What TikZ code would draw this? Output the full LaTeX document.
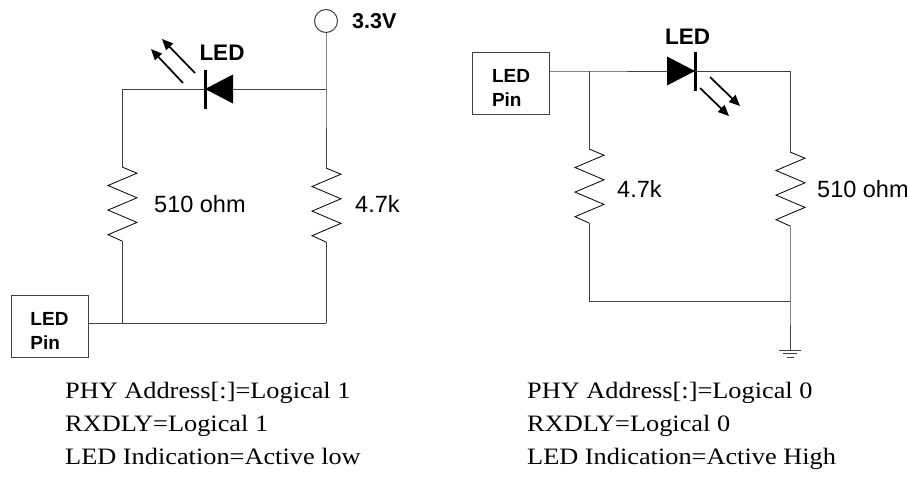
\documentclass[tikz,border=0pt]{standalone}
\usepackage{fontspec}
\setmainfont{Liberation Serif}
\setsansfont{Liberation Sans}
\newfontfamily\notefont[FakeStretch=1.12]{Liberation Serif}
\usetikzlibrary{arrows.meta}

\begin{document}
\begin{tikzpicture}[x=1pt,y=-1pt,
  wire/.style={black!75, line width=1pt},
  emit/.style={line width=1.7pt, -{Triangle[length=11pt,width=9.5pt]}},
  part/.style={font=\sffamily\fontsize{23.5}{28}\selectfont, anchor=west, inner sep=0pt},
  tag/.style={font=\sffamily\bfseries\fontsize{22.5}{26}\selectfont, inner sep=0pt},
  pinbox/.style={draw=black!75, line width=1pt, minimum width=77pt, minimum height=62pt, inner sep=0pt},
  pintext/.style={align=left, inner sep=0pt, yshift=-5pt, font=\sffamily\bfseries\fontsize{19}{24}\selectfont},
  note/.style={font=\notefont\fontsize{23.5}{33}\selectfont, anchor=base west, inner sep=0pt},
  resistor/.pic={
    \coordinate (-top) at (0,0);
    \coordinate (-bot) at (0,74);
    \draw[black, line width=0.8pt] (-top) -- ++(15,6.2) -- ++(-29,12.3) -- ++(29,12.3)
      -- ++(-29,12.3) -- ++(29,12.3) -- ++(-29,12.3) -- (-bot);
  },
  led/.pic={
    \coordinate (-a) at (-28,0);
    \coordinate (-k) at (0,0);
    \fill (-28,-14.5) -- (-28,14.5) -- (0,0) -- cycle;
    \draw[line width=3pt] (0,-19.5) -- (0,19.5);
  }]
\useasboundingbox (0,0) rectangle (908,477);

% active low
\node[draw=black!75, line width=1pt, circle, minimum size=23pt, inner sep=0pt] (vcc) at (326,21) {};
\node[tag, anchor=west, font=\sffamily\bfseries\fontsize{21.5}{25}\selectfont] (vcctag) at (352,21) {3.3V};
\coordinate (ljr) at (326,89);
\coordinate (ljl) at (122,89);
\coordinate (lbl) at (122,323);
\coordinate (lbr) at (326,323);
\pic[rotate=180] (dl) at (205,89) {led};
\pic (r1) at (122,167) {resistor};
\pic (r2) at (326,168) {resistor};
\node[pinbox, label={[pintext]center:{LED\\Pin}}] (pinl) at (49.5,326) {};
\node[tag] (ledl) at (222,53) {LED};
\node[part] (r1val) at (154,204) {510 ohm};
\node[part] (r2val) at (355,204) {4.7k};

\draw[wire] (vcc.south) -- (ljr) -- (r2-top);
\draw[wire] (ljr) -- (dl-a);
\draw[wire] (dl-k) -- (ljl) -- (r1-top);
\draw[wire] (r1-bot) -- (lbl);
\draw[wire] (r2-bot) -- (lbr);
\draw[wire] (pinl.east |- lbl) -- (lbr);
\draw[emit] ([shift={(-22,-6)}]dl-k) -- ([shift={(-54,-40)}]dl-k);
\draw[emit] ([shift={(-10,-16)}]dl-k) -- ([shift={(-43,-50)}]dl-k);

% active high
\node[pinbox, label={[pintext]center:{LED\\Pin}}] (pinr) at (511,83) {};
\coordinate (rjl) at (589,71);
\coordinate (rjr) at (790,71);
\coordinate (rbl) at (589,301);
\coordinate (rbr) at (790,301);
\coordinate (gnd) at (790,350);
\pic (dr) at (695,71) {led};
\pic (r3) at (589,149) {resistor};
\pic (r4) at (790,152) {resistor};
\node[tag] (ledr) at (687.5,37) {LED};
\node[part] (r3val) at (617,189) {4.7k};
\node[part] (r4val) at (817,189) {510 ohm};

\draw[wire] (pinr.east |- rjl) -- (rjl) -- (dr-a);
\draw[wire] (dr-k) -- (rjr) -- (r4-top);
\draw[wire] (rjl) -- (r3-top);
\draw[wire] (r3-bot) -- (rbl) -- (rbr);
\draw[wire] (r4-bot) -- (rbr) -- (gnd);
\draw[wire] ([shift={(-11,0)}]gnd) -- ([shift={(11,0)}]gnd);
\draw[wire] ([shift={(-7,3.5)}]gnd) -- ([shift={(7,3.5)}]gnd);
\draw[wire] ([shift={(-3.5,7)}]gnd) -- ([shift={(3.5,7)}]gnd);
\draw[emit] ([shift={(15,6)}]dr-k) -- ([shift={(45,35)}]dr-k);
\draw[emit] ([shift={(5,17)}]dr-k) -- ([shift={(34,45)}]dr-k);

% settings
\node[note] (l1) at (65,398) {PHY Address[:]=Logical 1};
\node[note] (l2) at (65,431) {RXDLY=Logical 1};
\node[note] (l3) at (65,464) {LED Indication=Active low};
\node[note] (h1) at (527,398) {PHY Address[:]=Logical 0};
\node[note] (h2) at (527,431) {RXDLY=Logical 0};
\node[note] (h3) at (527,464) {LED Indication=Active High};
\end{tikzpicture}
\end{document}
